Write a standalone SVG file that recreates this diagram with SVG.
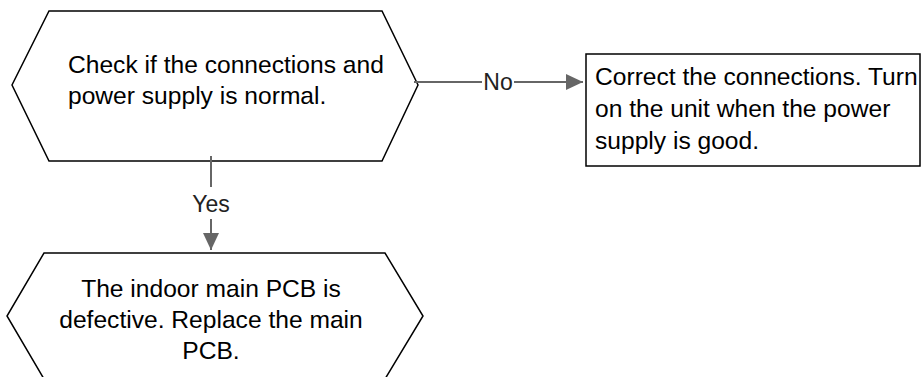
<svg xmlns="http://www.w3.org/2000/svg" width="924" height="377" viewBox="0 0 924 377">
<style>
.shape{fill:#fff;stroke:#000;stroke-width:1.5}
.t{font-family:"Liberation Sans",Arial,sans-serif;font-size:24.6px;fill:#000}
.lbl{font-family:"Liberation Sans",Arial,sans-serif;font-size:23px;fill:#222}
.c{stroke:#666;stroke-width:2;fill:none}
.bg{fill:#fff}
</style>
<defs>
<marker id="ah" viewBox="0 0 17 16" refX="17" refY="8" markerWidth="17" markerHeight="16" markerUnits="userSpaceOnUse" orient="auto">
<path d="M0,0 L17,8 L0,16 Z" fill="#666"/>
</marker>
</defs>
<g id="node-check">
<polygon class="shape" points="49,11 382,11 418,85 382,161 49,161 12,85"/>
<text class="t" x="68" y="73">Check if the connections and</text>
<text class="t" x="68" y="104">power supply is normal.</text>
</g>
<g id="node-correct">
<rect class="shape" x="586" y="54" width="334" height="112"/>
<text class="t" x="595" y="85">Correct the connections. Turn</text>
<text class="t" x="595" y="117">on the unit when the power</text>
<text class="t" x="595" y="149">supply is good.</text>
</g>
<g id="node-pcb">
<polygon class="shape" points="44,253 385,253 423,316 385,379 44,379 7,316"/>
<text class="t" x="211" y="297" text-anchor="middle">The indoor main PCB is</text>
<text class="t" x="211" y="328" text-anchor="middle">defective. Replace the main</text>
<text class="t" x="211" y="359" text-anchor="middle">PCB.</text>
</g>
<g id="connectors">
<line class="c" x1="414" y1="82" x2="583" y2="82" marker-end="url(#ah)"/>
<rect class="bg" x="482" y="70" width="32" height="24"/>
<text class="lbl" x="498" y="90" text-anchor="middle">No</text>
<line class="c" x1="211" y1="156" x2="211" y2="250" marker-end="url(#ah)"/>
<rect class="bg" x="192" y="187" width="38" height="32"/>
<text class="lbl" x="211" y="212" text-anchor="middle">Yes</text>
</g>
</svg>
